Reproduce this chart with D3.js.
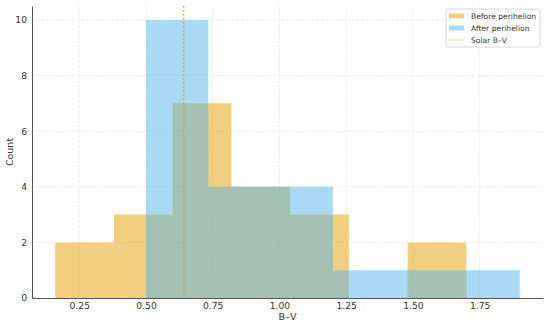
<!DOCTYPE html>
<html>
<head>
<script src="https://d3js.org/d3.v7.min.js"></script>
<style>
  body { margin: 0; background: #fff; }
  text { font-family: "DejaVu Sans", sans-serif; fill: #333; }
</style>
</head>
<body>
<div id="chart"></div>
<script>
// histogram data
const beforeEdges = [0.16, 0.38, 0.60, 0.82, 1.04, 1.26, 1.48, 1.70]
const beforeCounts = [2, 3, 7, 4, 3, 0, 2]
const afterEdges = [0.5, 0.7333, 0.9667, 1.2, 1.4333, 1.6667, 1.9]
const afterCounts = [10, 4, 4, 1, 1, 1]
const solarBV = 0.641
const xTicks = [0.25, 0.5, 0.75, 1.0, 1.25, 1.5, 1.75]
const yTicks = [0, 2, 4, 6, 8, 10]
const legendLabels = ["Before perihelion", "After perihelion", "Solar B\u2013V"]

const width = 550
const height = 325
const plotLeft = 32, plotRight = 543, plotTop = 6, plotBottom = 298

const orange = "#E69F00"
const blue = "#56B4E9"

const svg = d3.select("#chart").append("svg")
    .attr("width", width).attr("height", height)

const x = d3.scaleLinear().domain([0.073, 1.987]).range([plotLeft, plotRight])
const y = d3.scaleLinear().domain([0, 10.5]).range([plotBottom, plotTop])

// grid
const grid = svg.append("g")
grid.selectAll(".gx").data(xTicks).enter().append("line")
    .attr("x1", d => x(d)).attr("x2", d => x(d))
    .attr("y1", plotTop).attr("y2", plotBottom)
    .attr("stroke", "#d6d6d6").attr("stroke-width", 0.8)
    .attr("stroke-dasharray", "1,1.5")
grid.selectAll(".gy").data(yTicks.filter(d => d > 0)).enter().append("line")
    .attr("x1", plotLeft).attr("x2", plotRight)
    .attr("y1", d => y(d)).attr("y2", d => y(d))
    .attr("stroke", "#d6d6d6").attr("stroke-width", 0.8)
    .attr("stroke-dasharray", "1,1.5")

// step-shaped histogram as one area per series
const histPoints = (edges, counts) => {
    return edges.map((e, i) => [e, i < counts.length ? counts[i] : counts[counts.length - 1]])
}
const area = d3.area()
    .x(d => x(d[0]))
    .y0(y(0))
    .y1(d => y(d[1]))
    .curve(d3.curveStepAfter)

svg.append("path")
    .attr("d", area(histPoints(beforeEdges, beforeCounts)))
    .attr("fill", orange).attr("fill-opacity", 0.5)
svg.append("path")
    .attr("d", area(histPoints(afterEdges, afterCounts)))
    .attr("fill", blue).attr("fill-opacity", 0.5)

// solar line
svg.append("line")
    .attr("x1", x(solarBV)).attr("x2", x(solarBV))
    .attr("y1", plotTop).attr("y2", plotBottom)
    .attr("stroke", orange).attr("stroke-width", 1.5)
    .attr("stroke-dasharray", "1.5,2.5")

// axes
const xAxis = d3.axisBottom(x).tickValues(xTicks).tickSize(0).tickPadding(4)
    .tickFormat(d3.format(".2f"))
const yAxis = d3.axisLeft(y).tickValues(yTicks).tickSize(0).tickPadding(5)
    .tickFormat(d3.format("d"))

const gx = svg.append("g")
    .attr("transform", "translate(0," + plotBottom + ")")
    .call(xAxis)
const gy = svg.append("g")
    .attr("transform", "translate(" + plotLeft + ",0)")
    .call(yAxis)
gx.select(".domain").attr("stroke", "#555").attr("stroke-width", 1)
gy.select(".domain").attr("stroke", "#555").attr("stroke-width", 1)
svg.selectAll(".tick text").style("font-size", "9.2px").attr("fill", "#333")

svg.append("text")
    .attr("x", (plotLeft + plotRight) / 2).attr("y", 320)
    .attr("text-anchor", "middle")
    .style("font-size", "9.5px")
    .text("B\u2013V")
svg.append("text")
    .attr("transform", "translate(13," + ((plotTop + plotBottom) / 2) + ") rotate(-90)")
    .attr("text-anchor", "middle")
    .style("font-size", "9.5px")
    .text("Count")

// legend
const legend = svg.append("g").attr("transform", "translate(446,9)")
legend.append("rect")
    .attr("width", 94).attr("height", 38).attr("rx", 2)
    .attr("fill", "#fff").attr("fill-opacity", 0.8)
    .attr("stroke", "#ccc").attr("stroke-width", 0.8)

legendLabels.forEach((label, i) => {
    const row = legend.append("g").attr("transform", "translate(0," + (7 + i * 12) + ")")
    if (i < 2) {
        row.append("rect")
            .attr("x", 3).attr("y", -2.5).attr("width", 15).attr("height", 5)
            .attr("fill", i === 0 ? orange : blue).attr("fill-opacity", 0.5)
    } else {
        row.append("line")
            .attr("x1", 3).attr("x2", 18).attr("y1", 0).attr("y2", 0)
            .attr("stroke", orange).attr("stroke-width", 1.2)
            .attr("stroke-dasharray", "1.2,2")
    }
    row.append("text")
        .attr("x", 25).attr("y", 3)
        .style("font-size", "7.6px")
        .text(label)
})
</script>
</body>
</html>
